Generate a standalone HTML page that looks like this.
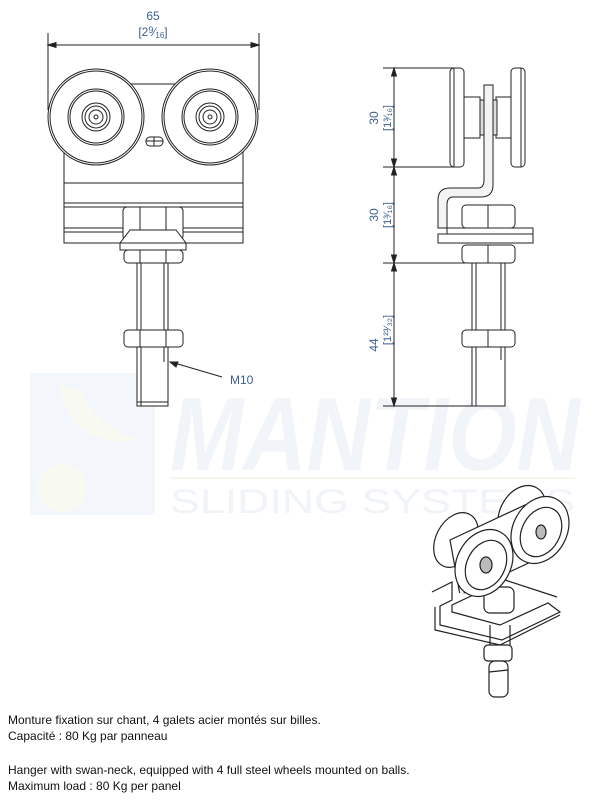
<!DOCTYPE html>
<html><head><meta charset="utf-8"><style>
body{margin:0;background:#fff;width:607px;height:800px;overflow:hidden;font-family:"Liberation Sans",sans-serif}
svg{position:absolute;left:0;top:0}
.t{position:absolute;left:8px;font-size:12px;color:#111;line-height:16px}
</style></head><body>
<svg width="607" height="800" viewBox="0 0 607 800" font-family="Liberation Sans, sans-serif">
<!-- watermark -->
<rect x="30" y="373" width="125" height="142" fill="#f3f6fb"/>
<path d="M60 385 Q70 450 140 440 Q100 430 80 390Z" fill="#f8f9f0"/>
<circle cx="62" cy="488" r="24" fill="#f8faf2"/>
<text x="170" y="470" font-size="104" font-style="italic" font-weight="bold" fill="#f1f4f9" textLength="410" lengthAdjust="spacingAndGlyphs">MANTION</text>
<line x1="170" y1="478" x2="575" y2="478" stroke="#f5f7ec" stroke-width="2"/>
<text x="170" y="513" font-size="34" fill="#f0f3f7" textLength="405" lengthAdjust="spacingAndGlyphs">SLIDING SYSTEMS</text>

<g stroke="#222" stroke-width="1" fill="none">
<!-- front view -->
<line x1="48" y1="33" x2="48" y2="110"/><line x1="259" y1="33" x2="259" y2="110"/>
<line x1="48" y1="45" x2="259" y2="45"/>
<path d="M48 45 l8 -2.5 v5z M259 45 l-8 -2.5 v5z" fill="#222"/>
<rect x="64" y="84" width="179" height="159" fill="#fff"/>
<line x1="64" y1="183" x2="243" y2="183"/><line x1="64" y1="203" x2="243" y2="203"/><line x1="64" y1="207" x2="243" y2="207"/>
<line x1="64" y1="228" x2="243" y2="228"/><line x1="64" y1="232" x2="243" y2="232"/>
<circle cx="96" cy="117" r="48" fill="#fff"/><circle cx="96" cy="117" r="46"/><circle cx="96" cy="117" r="28"/><circle cx="96" cy="117" r="26"/>
<circle cx="96" cy="117" r="14"/><circle cx="96" cy="117" r="11"/><circle cx="96" cy="117" r="7"/><circle cx="96" cy="117" r="2"/>
<circle cx="210" cy="117" r="48" fill="#fff"/><circle cx="210" cy="117" r="46"/><circle cx="210" cy="117" r="28"/><circle cx="210" cy="117" r="26"/>
<circle cx="210" cy="117" r="14"/><circle cx="210" cy="117" r="11"/><circle cx="210" cy="117" r="7"/><circle cx="210" cy="117" r="2"/>
<rect x="146" y="137" width="17" height="9" rx="4"/><line x1="154" y1="137" x2="154" y2="146"/><line x1="146" y1="141" x2="163" y2="141"/>
<rect x="123" y="207" width="60" height="33" rx="4" fill="#fff"/><line x1="140" y1="207" x2="140" y2="240"/><line x1="166" y1="207" x2="166" y2="240"/>
<path d="M120 243 L130 230 L176 230 L186 243Z" fill="#fff"/>
<rect x="120" y="243" width="66" height="7" fill="#fff"/>
<rect x="124" y="250" width="59" height="13" rx="4" fill="#fff"/><line x1="140" y1="250" x2="140" y2="263"/><line x1="166" y1="250" x2="166" y2="263"/>
<rect x="137" y="263" width="31" height="143" fill="#fff"/><line x1="141" y1="263" x2="141" y2="406"/><line x1="164" y1="263" x2="164" y2="362"/>
<rect x="124" y="330" width="59" height="17" rx="4" fill="#fff"/><line x1="140" y1="330" x2="140" y2="347"/><line x1="166" y1="330" x2="166" y2="347"/>
<line x1="137" y1="402" x2="168" y2="402"/>
<line x1="171" y1="362" x2="222" y2="377"/><path d="M170 362 l8 0 l-2 5z" fill="#222"/>
<!-- side view -->
<line x1="383" y1="68" x2="455" y2="68"/><line x1="383" y1="167" x2="455" y2="167"/><line x1="383" y1="263" x2="465" y2="263"/><line x1="383" y1="406" x2="475" y2="406"/>
<line x1="394" y1="68" x2="394" y2="406"/>
<path d="M394 68 l-2.5 8 h5z M394 167 l-2.5 -8 h5z M394 167 l-2.5 8 h5z M394 263 l-2.5 -8 h5z M394 263 l-2.5 8 h5z M394 406 l-2.5 -8 h5z" fill="#222"/>
<rect x="450" y="68" width="14" height="99" rx="4" fill="#fff"/><line x1="454" y1="68" x2="454" y2="167"/>
<rect x="511" y="68" width="14" height="99" rx="4" fill="#fff"/><line x1="521" y1="68" x2="521" y2="167"/>
<rect x="464" y="97" width="16" height="41"/><rect x="496" y="97" width="15" height="41"/>
<path d="M484 85 H493 V185 Q493 197 481 197 H453 Q447 197 447 205 V228 H438 V200 Q438 188 450 188 H478 Q484 188 484 180Z" fill="#f4f4f4"/>
<rect x="480" y="100" width="4" height="35" fill="#ddd"/><rect x="493" y="100" width="4" height="35" fill="#ddd"/>
<rect x="462" y="205" width="53" height="23" rx="4" fill="#fff"/><line x1="488" y1="205" x2="488" y2="228"/>
<rect x="447" y="228" width="86" height="6" fill="#fff"/><rect x="438" y="234" width="95" height="9" fill="#fff"/>
<rect x="462" y="245" width="53" height="18" rx="4" fill="#fff"/><line x1="488" y1="245" x2="488" y2="263"/>
<rect x="472" y="263" width="33" height="143" fill="#fff"/><line x1="476" y1="263" x2="476" y2="406"/><line x1="501" y1="263" x2="501" y2="360"/>
<rect x="462" y="330" width="53" height="17" rx="4" fill="#fff"/><line x1="488" y1="330" x2="488" y2="347"/>
<!-- 3D view -->
<g stroke-width="1.2">
<ellipse cx="522" cy="514" rx="22" ry="30" transform="rotate(28 522 514)" fill="#fff"/>
<ellipse cx="456" cy="540" rx="20" ry="29" transform="rotate(28 456 540)" fill="#fff"/>
<path d="M450 540 L525 505 L535 560 L460 595Z" fill="#fff"/>
<path d="M432 592 L452 582 L452 600 L440 606 L440 625 L502 640 L560 612 L548 603 L500 625 L452 612 L452 605 L505 580 L557 597" fill="#fff"/>
<path d="M435 607 V630 L500 645 L560 615" />
<rect x="484" y="587" width="30" height="26" rx="6" fill="#fff"/>
<ellipse cx="540" cy="530" rx="27" ry="35" transform="rotate(28 540 530)" fill="#fff"/>
<ellipse cx="541" cy="532" rx="19" ry="26" transform="rotate(28 541 532)"/>
<ellipse cx="541" cy="532" rx="5" ry="7" fill="#bbb"/>
<ellipse cx="484" cy="563" rx="27" ry="35" transform="rotate(28 484 563)" fill="#fff"/>
<ellipse cx="486" cy="565" rx="19" ry="26" transform="rotate(28 486 565)"/>
<ellipse cx="486" cy="565" rx="6" ry="8" fill="#bbb"/>
<path d="M490 625 V645 M510 625 V645"/>
<rect x="484" y="645" width="28" height="16" rx="4" fill="#fff"/>
<rect x="489" y="661" width="19" height="36" rx="6" fill="#fff"/>
<line x1="489" y1="672" x2="508" y2="670"/>
</g>
</g>
<g fill="#3b5f8f" font-size="12">
<text x="153" y="20" text-anchor="middle">65</text>
<text x="153" y="36" text-anchor="middle">[2<tspan font-size="9" dy="-3">9</tspan><tspan dy="3">⁄</tspan><tspan font-size="8" dy="2">16</tspan><tspan dy="-2">]</tspan></text>
<text x="230" y="384">M10</text>
<text transform="translate(378 118) rotate(-90)" text-anchor="middle">30</text>
<text transform="translate(391 118) rotate(-90)" text-anchor="middle" font-size="11">[1³⁄₁₆]</text>
<text transform="translate(378 215) rotate(-90)" text-anchor="middle">30</text>
<text transform="translate(391 215) rotate(-90)" text-anchor="middle" font-size="11">[1³⁄₁₆]</text>
<text transform="translate(378 345) rotate(-90)" text-anchor="middle">44</text>
<text transform="translate(391 330) rotate(-90)" text-anchor="middle" font-size="11">[1²³⁄₃₂]</text>
</g>
</svg>
<div class="t" style="top:712px">Monture fixation sur chant, 4 galets acier montés sur billes.<br>Capacité : 80 Kg par panneau</div>
<div class="t" style="top:762px">Hanger with swan-neck, equipped with 4 full steel wheels mounted on balls.<br>Maximum load : 80 Kg per panel</div>
</body></html>
